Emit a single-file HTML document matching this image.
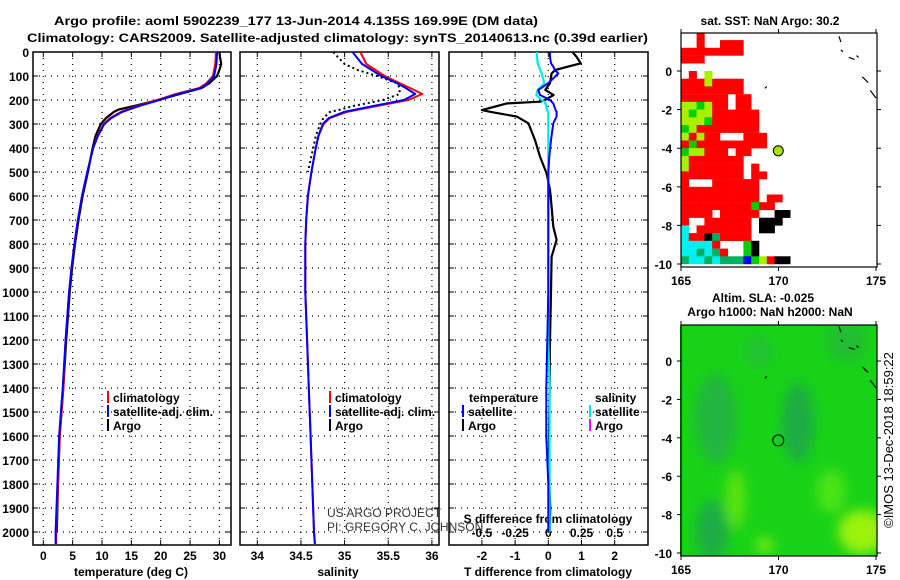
<!DOCTYPE html>
<html><head><meta charset="utf-8"><style>
html,body{margin:0;padding:0;background:#fff;}
svg{display:block;font-family:"Liberation Sans",Arial,sans-serif;}
.b{font-weight:bold;font-size:12px;}
</style></head><body>
<svg id="fig" width="900" height="580" viewBox="0 0 900 580" xmlns="http://www.w3.org/2000/svg">
<defs>
<filter id="blur" x="-30%" y="-30%" width="160%" height="160%"><feGaussianBlur stdDeviation="6"/></filter>
<clipPath id="clipM2"><rect x="680" y="325" width="197" height="231"/></clipPath>
<clipPath id="clipM1"><rect x="681" y="33" width="196" height="234"/></clipPath>
</defs>
<text class="b" x="54" y="25" font-size="14" textLength="484" lengthAdjust="spacingAndGlyphs">Argo profile: aoml 5902239_177 13-Jun-2014 4.135S 169.99E (DM data)</text>
<text class="b" x="27" y="42" font-size="14" textLength="621" lengthAdjust="spacingAndGlyphs">Climatology: CARS2009. Satellite-adjusted climatology: synTS_20140613.nc (0.39d earlier)</text>
<g id="g"></g>
</svg>
<script>
// ---- data ----
const depths = [0,50,100,130,150,175,200,225,250,275,300,350,400,500,600,700,800,900,1000,1200,1400,1600,1800,2000,2050];
const tempClim = [29.4,29.3,28.9,27.8,26.6,22.6,19.4,16.0,13.2,11.4,10.3,9.2,8.5,7.5,6.6,5.9,5.3,4.8,4.4,3.8,3.4,2.8,2.5,2.2,2.2];
const tempSat  = [29.6,29.5,29.1,28.0,26.9,23.0,19.8,16.3,13.4,11.6,10.4,9.3,8.5,7.5,6.6,5.9,5.3,4.8,4.4,3.8,3.3,2.7,2.4,2.1,2.1];
const argoDepths = [0,20,50,75,100,130,150,175,200,225,240,250,275,300,350,400,500,600,700,800,900,1000,1200,1400,1600,1800,2000];
const tempArgo = [30.0,30.1,30.3,30.0,29.6,28.3,27.0,23.3,19.6,15.5,12.8,12.0,10.7,9.8,8.9,8.4,7.6,6.7,6.0,5.4,4.9,4.5,3.9,3.4,2.8,2.5,2.3];
const salClim = [35.18,35.25,35.46,35.63,35.75,35.89,35.73,35.37,35.02,34.83,34.76,34.70,34.67,34.62,34.58,34.56,34.55,34.55,34.55,34.57,34.59,34.61,34.63,34.65,34.66];
const salSat  = [35.09,35.20,35.42,35.60,35.70,35.81,35.68,35.33,34.99,34.82,34.75,34.70,34.67,34.62,34.58,34.56,34.55,34.55,34.55,34.57,34.59,34.61,34.63,34.65,34.66];
const salArgo = [34.87,34.92,35.00,35.15,35.37,35.60,35.63,35.63,35.44,35.10,34.95,34.83,34.76,34.72,34.67,34.64,34.58,34.56,34.55,34.55,34.55,34.55,34.57,34.59,34.61,34.63,34.65];
const diffDepths = [0,20,47,61,75,89,130,158,179,200,207,214,242,249,269,297,367,436,506,575,644,728,783,853,1000,1200,1400,1600,1800,1900,2000];
const tDiffArgo = [0.73,0.85,0.98,0.60,0.21,0.10,0.05,-0.09,0.16,-0.10,-0.25,-1.25,-2.0,-1.75,-0.95,-0.60,-0.40,-0.25,-0.05,0.05,0.10,0.15,0.25,0.10,0.08,0.05,0.04,0.02,0.03,0.06,0.04];
const tDiffSat  = [0.05,0.05,0.08,0.15,0.20,0.30,0.00,-0.30,-0.25,0.05,0.10,0.15,0.22,0.25,0.25,0.15,0.08,0.03,0.00,0.00,0.00,0.00,0.00,0.00,0.00,-0.03,-0.06,-0.06,0.00,0.00,0.00];
const sDiffSat  = [-0.087,-0.085,-0.08,-0.07,-0.06,-0.05,-0.03,-0.08,-0.09,-0.05,-0.03,-0.02,-0.01,0.0,0.0,0.0,0.0,0.0,0.0,0.0,0.0,0.0,0.0,0.0,0.0,0.0,0.01,0.01,0.01,0.01,0.01];
const depthTicks = [0,100,200,300,400,500,600,700,800,900,1000,1100,1200,1300,1400,1500,1600,1700,1800,1900,2000];
const tempTicks = [0,5,10,15,20,25,30];
const salTicks = [34,34.5,35,35.5,36];
const tDiffTicks = [-2,-1,0,1,2];
const sDiffTicks = ['-0.5','-0.25','0','0.25','0.5'];
const sstRows = [
"..r...........","..r..rrr......","rrrrrrrr......","rrr...........","..............",
".r.y..........","rrryrrrr......","rrrrrrrr......","rrrrrr.rr.....","yygyrr.rr.....",
"ygyyrrrrrr....","yyygrrrrrr....","gyrrrrrrrr....","yryrr...rrr...","rgrrrrrrrrr...",
"gyyrrr.rr.....","yrrrrrrr......","yrrrrrrr.r....","rrrrrrrr.rr...","r...rrrrrr....",
"rrrrrrrrrr....","rrrrrrrrrr.rr.","rrrrrrrrrgrr..","rrrr.rrrrr..kk","r..rrrrrr.kkk.",
"c.rrrrrrr.kk..","crrkdrrrr.....","ccccr...gk....","ccdcdr..gk....","dccdcdddbgyrkk"];
const argoLon = 169.99, argoLat = -4.135;
// ---- helpers ----
const NS='http://www.w3.org/2000/svg';
const G=document.getElementById('g');
function mk(tag,attrs,parent){const e=document.createElementNS(NS,tag);for(const k in attrs)e.setAttribute(k,attrs[k]);(parent||G).appendChild(e);return e;}
function txt(s,x,y,attrs,parent){const e=mk('text',Object.assign({x:x,y:y},attrs||{}),parent);e.textContent=s;return e;}
const depthY=d=>52+0.24*d;
const tX=t=>43.3+5.87*t;
const sX=s=>257.3+87.3*(s-34);
const dX=v=>548.3+33.2*v;
const sdX=v=>548.3+132.8*v;
const PB=545, PT=52;
function panel(x0,x1,vx,name){
  const g=mk('g',{});
  
  
  depthTicks.forEach(d=>{const y=depthY(d);
    if(d>0) mk('line',{x1:x0,x2:x1,y1:y,y2:y,stroke:'#000','stroke-width':1.2,'stroke-dasharray':'1 5'},g);
    mk('line',{x1:x0,x2:x0+5,y1:y,y2:y,stroke:'#000'},g);mk('line',{x1:x1-5,x2:x1,y1:y,y2:y,stroke:'#000'},g);});
  vx.forEach(x=>{mk('line',{x1:x,x2:x,y1:PT,y2:PB,stroke:'#000','stroke-width':1.2,'stroke-dasharray':'1 5'},g);
    mk('line',{x1:x,x2:x,y1:PT,y2:PT+5,stroke:'#000'},g);mk('line',{x1:x,x2:x,y1:PB-5,y2:PB,stroke:'#000'},g);});
  mk('rect',{x:x0,y:PT,width:x1-x0,height:PB-PT,fill:'none',stroke:'#000','stroke-width':1.5},g);
  return g;
}
function line(xs,ds,fx,color,w,name,dash){
  const pts=xs.map((v,i)=>fx(v).toFixed(1)+','+depthY(ds[i]).toFixed(1)).join(' ');
  const p=mk('polyline',{points:pts,fill:'none',stroke:color,'stroke-width':w,'stroke-linejoin':'round'});
  if(dash)p.setAttribute('stroke-dasharray',dash);
  
  
  return p;
}
// ---- panel 1: temperature ----
panel(33,231,tempTicks.map(tX),'temperature-panel');
depthTicks.forEach(d=>{const t=txt(String(d),29,depthY(d)+5,{class:'b','text-anchor':'end'});
  
  });
tempTicks.forEach(v=>{const t=txt(String(v),tX(v),560,{class:'b','text-anchor':'middle'});
  
  });
let t1=txt('temperature (deg C)',131,576,{class:'b','text-anchor':'middle'});


line(tempArgo,argoDepths,tX,'#000',2.2,'argo-temperature-line');
line(tempClim,depths,tX,'#f00',2,'clim-temperature-line');
line(tempSat,depths,tX,'#00f',2,'sat-temperature-line');
// ---- panel 2: salinity ----
panel(240,439,salTicks.map(sX),'salinity-panel');
salTicks.forEach(v=>{const t=txt(String(v),sX(v),560,{class:'b','text-anchor':'middle'});
  
  });
let t2=txt('salinity',338,576,{class:'b','text-anchor':'middle'});


line(salArgo.slice(0,17),argoDepths.slice(0,17),sX,'#000',2,'argo-salinity-line','2 3');
line(salClim,depths,sX,'#f00',2,'clim-salinity-line');
line(salSat,depths,sX,'#00f',2,'sat-salinity-line');
// ---- panel 3: differences ----
panel(449,648,tDiffTicks.map(dX),'difference-panel');
tDiffTicks.forEach(v=>{const t=txt(String(v),dX(v),560,{class:'b','text-anchor':'middle'});
  
  });
sDiffTicks.forEach(v=>{const t=txt(v,sdX(parseFloat(v)),537,{class:'b','text-anchor':'middle'});
  
  });
let t3=txt('T difference from climatology',548,576,{class:'b','text-anchor':'middle'});


let t4=txt('S difference from climatology',548,523,{class:'b','text-anchor':'middle'});


line(tDiffArgo,diffDepths,dX,'#000',2.2,'argo-t-diff-line');
line(sDiffSat,diffDepths,sdX,'#00e8e8',2.2,'sat-s-diff-line');
line(tDiffSat,diffDepths,dX,'#00f',2,'sat-t-diff-line');
// credit text
let c1=txt('US ARGO PROJECT',327,517,{'font-size':'12','fill':'#333'});


let c2=txt('PI: GREGORY C. JOHNSON',327,531,{'font-size':'12','fill':'#333'});


// legends
function legItem(x,y,color,label,name){
  const g=mk('g',{});
  
  
  mk('rect',{x:x,y:y-11,width:2,height:12,fill:color},g);
  txt(label,x+6,y,{class:'b'},g);
}
legItem(107,402,'#f00','climatology','legend-climatology');
legItem(107,416,'#00f','satellite-adj. clim.','legend-satellite-adj');
legItem(107,430,'#000','Argo','legend-argo');
legItem(329,402,'#f00','climatology','legend-climatology-sal');
legItem(329,416,'#00f','satellite-adj. clim.','legend-satellite-adj-sal');
legItem(329,430,'#000','Argo','legend-argo-sal');
let lt=txt('temperature',469,402,{class:'b'});


let ls=txt('salinity',595,402,{class:'b'});


legItem(462,416,'#00f','satellite','legend-t-satellite');
legItem(462,430,'#000','Argo','legend-t-argo');
legItem(589,416,'#00e8e8','satellite','legend-s-satellite');
legItem(589,430,'#f0f','Argo','legend-s-argo');
// ---- maps ----
const lonX=l=>681+19.5*(l-165);
const lat1=la=>71-19.3*la;
const lat2=la=>361-19.2*la;
const colors={r:'#ff0000',y:'#a8f000',g:'#00d000',d:'#00b060',c:'#00f0f0',k:'#000000',b:'#0000ff'};
function mapFrame(top,bot,latF,name){
  const g=mk('g',{});
  
  
  [165,170,175].forEach(l=>{const x=lonX(l);mk('line',{x1:x,x2:x,y1:top-4,y2:top,stroke:'#000'},g);mk('line',{x1:x,x2:x,y1:bot,y2:bot+4,stroke:'#000'},g);
    txt(String(l),x,bot+18,{class:'b','text-anchor':'middle'},g);});
  [0,-2,-4,-6,-8,-10].forEach(la=>{const y=latF(la);mk('line',{x1:677,x2:681,y1:y,y2:y,stroke:'#000'},g);mk('line',{x1:877,x2:881,y1:y,y2:y,stroke:'#000'},g);
    txt(String(la),672,y+5,{class:'b','text-anchor':'end'},g);});
  mk('rect',{x:681,y:top,width:196,height:bot-top,fill:'none',stroke:'#000','stroke-width':1.2},g);
}
// map 1 SST cells
const m1=mk('g',{'clip-path':'url(#clipM1)'});


sstRows.forEach((row,i)=>{for(let j=0;j<row.length;j++){const ch=row[j];if(ch==='.')continue;
  const c=mk('rect',{x:lonX(165+0.4*j).toFixed(1),y:lat1(2-0.4*i).toFixed(1),width:8.1,height:7.9,fill:colors[ch]},m1);
  
  }});
const coast=[[173.1,1.8,173.2,1.5],[173.2,1.1,173.3,1.0],[173.6,0.7,173.9,0.6],[174,0.8,174.1,0.7],[174.3,-0.3,174.6,-0.6],[174.7,-1.0,175,-1.4],[169.3,-0.9,169.4,-0.8]];
coast.forEach(c=>{mk('line',{x1:lonX(c[0]),y1:lat1(c[1]),x2:lonX(c[2]),y2:lat1(c[3]),stroke:'#000','stroke-width':1.2},m1);});
mapFrame(33,267,lat1,'sst-map-frame');
const dot=mk('circle',{cx:lonX(argoLon),cy:lat1(argoLat),r:5,fill:'#a8e000',stroke:'#000'});


let mt1=txt('sat. SST: NaN Argo: 30.2',770,25,{class:'b','text-anchor':'middle'});


// map 2 SLA
const m2=mk('g',{'clip-path':'url(#clipM2)'});


mk('rect',{x:680,y:325,width:197,height:231,fill:'#18d218'},m2);
const fg=mk('g',{filter:'url(#blur)'},m2);
[[166.8,-3,20,45,'#24b440'],[171,-3.2,16,40,'#1eac44'],[166.6,-8.8,16,30,'#1eac44'],[173.5,1,20,20,'#20bc30'],[169,0.5,14,16,'#22c032'],
 [167.8,-7.2,10,30,'#5ae410'],[172.7,-6.8,14,22,'#4ee418'],[174.3,-8.9,24,22,'#9cf208'],[169.3,-9.6,10,8,'#70e818']]
 .forEach(b=>mk('ellipse',{cx:lonX(b[0]),cy:lat2(b[1]),rx:b[2],ry:b[3],fill:b[4]},fg));
coast.forEach(c=>{mk('line',{x1:lonX(c[0]),y1:lat2(c[1]),x2:lonX(c[2]),y2:lat2(c[3]),stroke:'#000','stroke-width':1.2},m2);});
mapFrame(325,556,lat2,'sla-map-frame');
const dot2=mk('circle',{cx:lonX(argoLon),cy:lat2(argoLat),r:5.5,fill:'none',stroke:'#000'});


let mt2=txt('Altim. SLA: -0.025',763,302,{class:'b','text-anchor':'middle'});


let mt3=txt('Argo h1000: NaN h2000: NaN',770,316,{class:'b','text-anchor':'middle'});


let cr=txt('©IMOS 13-Dec-2018 18:59:22',0,0,{'font-size':'13','text-anchor':'middle',transform:'translate(893,440) rotate(-90)'});


</script>
</body></html>
